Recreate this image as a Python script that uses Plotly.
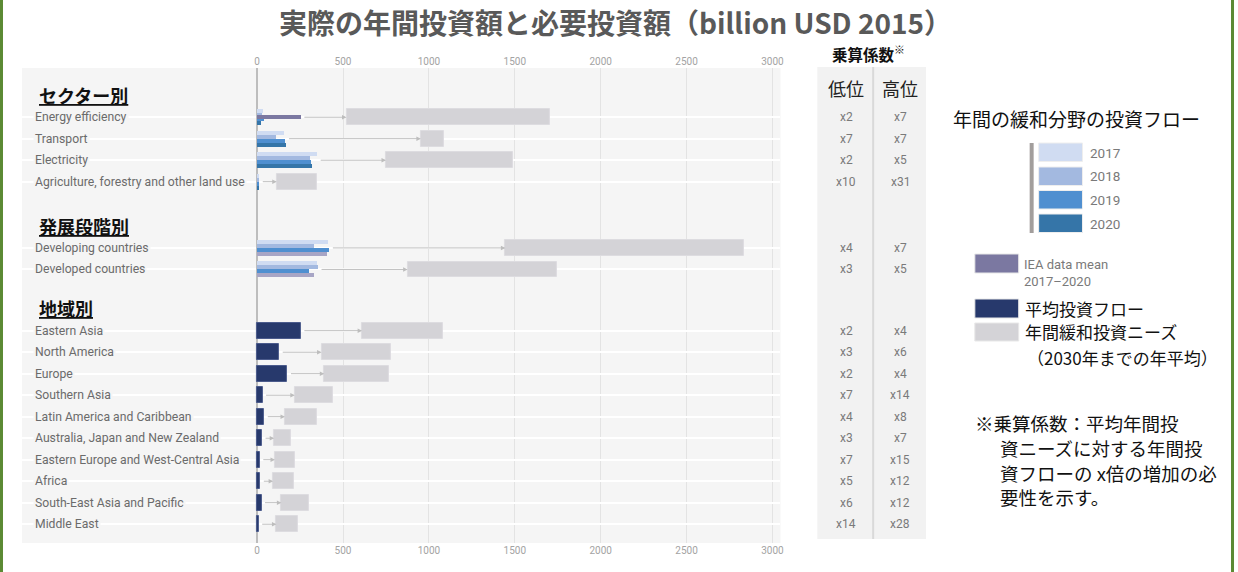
import plotly.graph_objects as go

W, H = 1238, 572

# ---- data -------------------------------------------------------------
group_titles = ["セクター別", "発展段階別", "地域別"]
sector_labels = ["Energy efficiency", "Transport", "Electricity",
                 "Agriculture, forestry and other land use"]
dev_labels = ["Developing countries", "Developed countries"]
region_labels = ["Eastern Asia", "North America", "Europe", "Southern Asia",
                 "Latin America and Caribbean", "Australia, Japan and New Zealand",
                 "Eastern Europe and West-Central Asia", "Africa",
                 "South-East Asia and Pacific", "Middle East"]

years = ["2017", "2018", "2019", "2020"]
# annual mitigation flows per year for sector + development rows (billion USD 2015)
flows_2017 = [31, 153, 349, 12, 412, 350]
flows_2018 = [25, 109, 309, 10, 331, 354]
flows_2019 = [40, 159, 313, 11, 420, 302]
flows_2020 = [23, 165, 318, 11, 405, 333]
iea_mean_energy_eff = 254
# average annual flows by region
region_mean_flow = [254, 128, 176, 31, 41, 28, 15, 18, 25, 8.5]

# annual mitigation investment needs to 2030 (low / high), all 16 rows
need_low = [520, 953, 750, 114, 1445, 876,
            611, 375, 391, 219, 162, 99, 104, 93, 141, 112]
need_high = [1704, 1089, 1491, 348, 2836, 1747,
             1081, 779, 766, 439, 348, 196, 219, 215, 300, 240]

mult_low = ["x2", "x7", "x2", "x10", "x4", "x3",
            "x2", "x3", "x2", "x7", "x4", "x3", "x7", "x5", "x6", "x14"]
mult_high = ["x7", "x7", "x5", "x31", "x7", "x5",
             "x4", "x6", "x4", "x14", "x8", "x7", "x15", "x12", "x12", "x28"]

x_ticks = [0, 500, 1000, 1500, 2000, 2500, 3000]

# ---- styles -----------------------------------------------------------
CJK = "Noto Sans CJK JP"
LAT = "Roboto"
year_colors = ["#d0dcf2", "#a3b9e0", "#4f8fd0", "#3575a8"]
dev_2020_color = "#a7a5c5"
iea_color = "#7b78a1"
navy = "#27396c"
need_color = "#d4d3d7"
bg = "#f5f5f5"

# ---- row layout -------------------------------------------------------
groups = [sector_labels, dev_labels, region_labels]
group_step = [3.08, 2.85]          # distance from last row of a group to first row of next
row_pos, group_start = [], []
pos = 0.0
for gi, g in enumerate(groups):
    if gi > 0:
        pos = row_pos[-1] + group_step[gi - 1]
    group_start.append(pos)
    for k in range(len(g)):
        row_pos.append(pos + k)
labels = sector_labels + dev_labels + region_labels
n_year_rows = len(sector_labels) + len(dev_labels)
year_rows = row_pos[:n_year_rows]
region_rows = row_pos[n_year_rows:]


# pixel helpers for paper coordinates
def px(xp):
    return xp / W


def py(yp):
    return 1 - yp / H


def note(x, y, text, size, color="#111111", family=CJK, xanchor="left",
         xref="paper", yref="paper", **kw):
    return dict(x=x, y=y, xref=xref, yref=yref, xanchor=xanchor, yanchor="middle",
                text=text, showarrow=False,
                font=dict(family=family, size=size, color=color), **kw)


# x axis: value 0 sits at x=258px, 0.17233 px per unit; plot panel 22..783 px
SCALE = 0.17233
X0_PX, LEFT_PX, RIGHT_PX = 258, 22, 783
x_range = [-(X0_PX - LEFT_PX) / SCALE, (RIGHT_PX - X0_PX) / SCALE]
# y axis: row 0 at 117.2px, 21.5 px per row; panel 68..543 px
ROW0_PX, ROW_PX, TOP_PX, BOT_PX = 117.2, 21.5, 68, 543
y_range = [(BOT_PX - ROW0_PX) / ROW_PX, (TOP_PX - ROW0_PX) / ROW_PX]

fig = go.Figure()

# investment needs (grey ranges)
fig.add_trace(go.Bar(
    orientation="h", y=row_pos,
    x=[h - l for l, h in zip(need_low, need_high)], base=need_low,
    width=0.73, marker=dict(color=need_color, line=dict(color="#dddce0", width=1)),
    hoverinfo="skip", showlegend=False))

# yearly flows (thin bars inside each row)
offsets = [-0.28, -0.093, 0.093, 0.28]
for yi, (vals, col) in enumerate(zip([flows_2017, flows_2018, flows_2019, flows_2020], year_colors)):
    colors = [col] * n_year_rows
    if yi == 3:
        colors = [col] * len(sector_labels) + [dev_2020_color] * len(dev_labels)
    fig.add_trace(go.Bar(
        orientation="h", y=[r + offsets[yi] for r in year_rows], x=vals,
        width=0.19, marker=dict(color=colors, line=dict(width=0)),
        name=years[yi], hoverinfo="skip", showlegend=False))

# IEA mean for energy efficiency
fig.add_trace(go.Bar(
    orientation="h", y=[year_rows[0]], x=[iea_mean_energy_eff], width=0.2,
    marker=dict(color=iea_color, line=dict(width=0)), hoverinfo="skip", showlegend=False))

# regional average flows
fig.add_trace(go.Bar(
    orientation="h", y=region_rows, x=region_mean_flow, width=0.73,
    marker=dict(color=navy, line=dict(color="#4b5b8c", width=1)),
    hoverinfo="skip", showlegend=False))

# invisible trace carrying the top axis
fig.add_trace(go.Scatter(x=[0], y=[0], xaxis="x2", mode="markers",
                         marker=dict(opacity=0), hoverinfo="skip", showlegend=False))

annotations = []
shapes = []

# arrows from current flow to needed investment
flow_max = [max(v) for v in zip(flows_2017, flows_2018, flows_2019, flows_2020)]
flow_max[0] = max(flow_max[0], iea_mean_energy_eff)
flow_max += region_mean_flow
for r, fmax, lo in zip(row_pos, flow_max, need_low):
    annotations.append(dict(
        x=lo, y=r, ax=fmax + 12, ay=r, xref="x", yref="y", axref="x", ayref="y",
        showarrow=True, arrowhead=2, arrowsize=0.9, arrowwidth=1,
        arrowcolor="#bdbdbd", standoff=0, text=""))

# row labels
for r, lab in zip(row_pos, labels):
    annotations.append(note(px(33), r, lab, 12.2, "#6b6b6b", LAT, yref="y",
                            bgcolor=bg, borderpad=1))

# group headings
for gs, title in zip(group_start, group_titles):
    annotations.append(dict(
        x=px(37), y=gs - 1.04, xref="paper", yref="y", xanchor="left", yanchor="middle",
        text="<b>" + title + "</b>", showarrow=False,
        font=dict(family=CJK, size=18, color="#111111", lineposition="under")))

# multiplier table
shapes.append(dict(type="rect", xref="paper", yref="paper",
                   x0=px(820), x1=px(929), y0=py(539), y1=py(67),
                   fillcolor="#f2f2f2", line=dict(width=0), layer="below"))
shapes.append(dict(type="line", xref="paper", yref="paper",
                   x0=px(876), x1=px(876), y0=py(539), y1=py(67),
                   line=dict(color="#d9d9d9", width=2)))
annotations.append(note(px(871), py(53), "<b>乗算係数</b><sup>※</sup>", 15.5,
                        xanchor="center"))
for xc, head in [(849, "低位"), (903, "高位")]:
    annotations.append(note(px(xc), py(88), head, 18, "#222222", xanchor="center"))
for r, lo, hi in zip(row_pos, mult_low, mult_high):
    for xc, t in [(849, lo), (903, hi)]:
        annotations.append(note(px(xc), r, t, 12, "#7a7a7a", LAT,
                                xanchor="center", yref="y"))

# legend block
annotations.append(note(px(954), py(119), "年間の緩和分野の投資フロー", 19))
shapes.append(dict(type="rect", xref="paper", yref="paper",
                   x0=px(1033), x1=px(1037), y0=py(233), y1=py(143),
                   fillcolor="#a29e9c", line=dict(width=0)))
sw_tops = [143, 167, 190.5, 214]
for yt, col, yr in zip(sw_tops, year_colors, years):
    shapes.append(dict(type="rect", xref="paper", yref="paper",
                       x0=px(1042), x1=px(1086), y0=py(yt + 18.5), y1=py(yt),
                       fillcolor=col, line=dict(color="#eeeeee", width=1)))
    annotations.append(note(px(1092), py(yt + 9.5), yr, 13.5, "#7a7a7a", LAT))
legend_items = [(254, 273, iea_color), (299, 318, navy), (323, 341, need_color)]
for y0, y1, col in legend_items:
    shapes.append(dict(type="rect", xref="paper", yref="paper",
                       x0=px(978), x1=px(1022), y0=py(y1), y1=py(y0),
                       fillcolor=col, line=dict(color="#e8e8e8", width=1)))
annotations.append(note(px(1025), py(273), "IEA data mean<br>2017–2020", 13,
                        "#7a7a7a", LAT, align="left"))
annotations.append(note(px(1026), py(308), "平均投資フロー", 17))
annotations.append(note(px(1026), py(331), "年間緩和投資ニーズ", 17))
annotations.append(note(px(1028), py(357), "（2030年までの年平均）", 17))

# footnote
note_lines = [("※乗算係数：平均年間投", 976, 423),
              ("資ニーズに対する年間投", 1001, 448),
              ("資フローの x倍の増加の必", 1001, 473),
              ("要性を示す。", 1001, 497)]
for t, xl, yc in note_lines:
    annotations.append(note(px(xl), py(yc), t, 18.5))

# title
annotations.append(note(px(617), py(22), "<b>実際の年間投資額と必要投資額（billion USD 2015）</b>",
                        28, "#595959", xanchor="center"))

# green frame edges
for xe in (1.5, 1236.5):
    shapes.append(dict(type="line", xref="paper", yref="paper",
                       x0=px(xe), x1=px(xe), y0=0, y1=1,
                       line=dict(color="#5b8a34", width=3)))

axis_common = dict(range=x_range, domain=[px(LEFT_PX), px(RIGHT_PX)],
                   tickvals=x_ticks, ticks="", fixedrange=True,
                   tickfont=dict(family=LAT, size=10, color="#a3a3a3"))
fig.update_layout(
    width=W, height=H, margin=dict(l=0, r=0, t=0, b=0),
    paper_bgcolor="white", plot_bgcolor=bg, barmode="overlay", bargap=0,
    xaxis=dict(**axis_common, showgrid=True, gridcolor="#e3e3e3", gridwidth=1,
               zeroline=True, zerolinecolor="#bdbdbd", zerolinewidth=2, side="bottom"),
    xaxis2=dict(**axis_common, overlaying="x", side="top", showgrid=False, zeroline=False),
    yaxis=dict(range=y_range, domain=[py(BOT_PX), py(TOP_PX)], tickvals=row_pos,
               showticklabels=False, ticks="", showgrid=True, gridcolor="white",
               gridwidth=1.5, zeroline=False, fixedrange=True),
    annotations=annotations, shapes=shapes, showlegend=False,
)

fig.write_html("out.html")
